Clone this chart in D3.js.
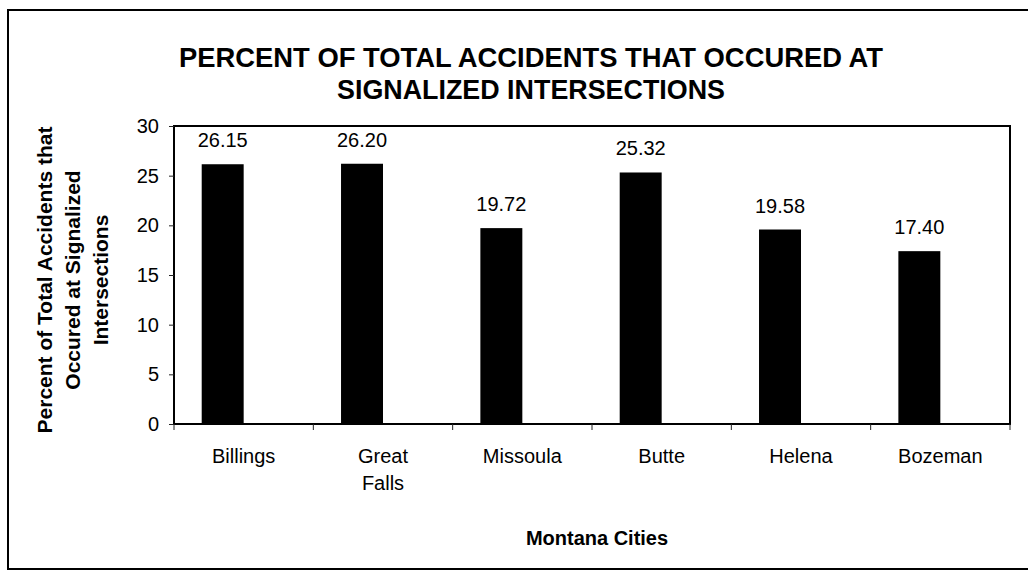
<!DOCTYPE html>
<html>
<head>
<meta charset="utf-8">
<script src="https://cdn.jsdelivr.net/npm/d3@7"></script>
<style>
  body { margin: 0; background: #fff; }
  text { font-family: Arial, "Liberation Sans", sans-serif; fill: #000; }
</style>
</head>
<body>
<svg width="1028" height="575"></svg>
<script>
let cities = ['Billings', 'Great Falls', 'Missoula', 'Butte', 'Helena', 'Bozeman'];
let percents = [26.15, 26.20, 19.72, 25.32, 19.58, 17.40];
let series = ['Percent', 'blank'];   // second series is empty, it just shifts the bars left
let yTicks = [0, 5, 10, 15, 20, 25, 30];
let titleLines = ['PERCENT OF TOTAL ACCIDENTS THAT OCCURED AT', 'SIGNALIZED INTERSECTIONS'];
let yTitleLines = ['Percent of Total Accidents that', 'Occured at Signalized', 'Intersections'];
let xTitle = 'Montana Cities';

let svg = d3.select('svg'),
    width = +svg.attr('width'),
    height = +svg.attr('height');

let plot = {left: 174, right: 1010, top: 126, bottom: 424};

// outer frame
svg.append('rect')
    .attr('x', 8).attr('y', 10)
    .attr('width', 1030).attr('height', 559)
    .attr('fill', 'none').attr('stroke', '#000').attr('stroke-width', 2);

let x = d3.scaleBand()
    .domain(cities)
    .range([plot.left, plot.right]);

let xInner = d3.scaleBand()
    .domain(series)
    .range([0, x.bandwidth()])
    .paddingInner(0)
    .paddingOuter(0.66);

let y = d3.scaleLinear()
    .domain([0, 30])
    .range([plot.bottom, plot.top]);

// title
svg.append('g').selectAll('text')
    .data(titleLines)
    .enter().append('text')
    .attr('x', 531)
    .attr('y', (d, i) => 67 + i * 32)
    .attr('text-anchor', 'middle')
    .attr('font-size', 28)
    .attr('font-weight', 'bold')
    .attr('textLength', (d, i) => i === 0 ? 704 : 388)
    .attr('lengthAdjust', 'spacingAndGlyphs')
    .text(d => d);

// bars
svg.append('g')
    .selectAll('rect')
    .data(cities)
    .enter().append('rect')
    .attr('x', d => x(d) + xInner('Percent'))
    .attr('y', (d, i) => y(percents[i]))
    .attr('width', xInner.bandwidth())
    .attr('height', (d, i) => y(0) - y(percents[i]))
    .attr('fill', '#000');

// value labels
svg.append('g')
    .selectAll('text')
    .data(cities)
    .enter().append('text')
    .attr('x', d => x(d) + xInner('Percent') + xInner.bandwidth() / 2)
    .attr('y', (d, i) => y(percents[i]) - 17)
    .attr('text-anchor', 'middle')
    .attr('font-size', 20)
    .text((d, i) => percents[i].toFixed(2));

// plot frame
svg.append('rect')
    .attr('x', plot.left).attr('y', plot.top)
    .attr('width', plot.right - plot.left).attr('height', plot.bottom - plot.top)
    .attr('fill', 'none').attr('stroke', '#000').attr('stroke-width', 2);

// y axis
let yAxis = svg.append('g')
    .attr('transform', `translate(${plot.left},0)`)
    .call(d3.axisLeft(y).tickValues(yTicks).tickSize(5).tickPadding(10));
yAxis.select('.domain').remove();
yAxis.selectAll('text').attr('font-size', 20).attr('font-family', null);
yAxis.selectAll('line').attr('stroke', '#222');

// x axis ticks at the category boundaries
let edges = cities.map(c => x(c)).concat([x.range()[1]]);
svg.append('g').selectAll('line')
    .data(edges)
    .enter().append('line')
    .attr('x1', d => d).attr('x2', d => d)
    .attr('y1', plot.bottom).attr('y2', plot.bottom + 6)
    .attr('stroke', '#222');

// category labels, Great Falls wraps
svg.append('g').selectAll('text')
    .data(cities)
    .enter().append('text')
    .attr('x', d => x(d) + x.bandwidth() / 2)
    .attr('y', 463)
    .attr('text-anchor', 'middle')
    .attr('font-size', 20)
    .each(function(d) {
        let words = d === 'Great Falls' ? ['Great', 'Falls'] : [d];
        d3.select(this).selectAll('tspan')
            .data(words)
            .enter().append('tspan')
            .attr('x', x(d) + x.bandwidth() / 2)
            .attr('dy', (w, i) => i === 0 ? 0 : 27)
            .text(w => w);
    });

// y title
svg.append('g')
    .attr('transform', 'translate(0,280) rotate(-90)')
    .selectAll('text')
    .data(yTitleLines)
    .enter().append('text')
    .attr('x', 0)
    .attr('y', (d, i) => 52 + i * 28)
    .attr('text-anchor', 'middle')
    .attr('font-size', 21)
    .attr('font-weight', 'bold')
    .text(d => d);

// x title
svg.append('text')
    .attr('x', 597)
    .attr('y', 545)
    .attr('text-anchor', 'middle')
    .attr('font-size', 20)
    .attr('font-weight', 'bold')
    .text(xTitle);
</script>
</body>
</html>
